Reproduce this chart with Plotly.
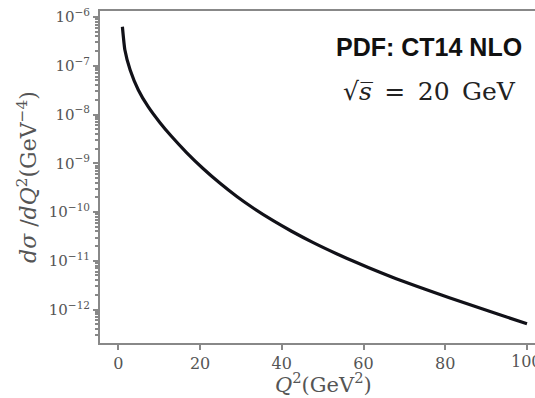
import plotly.graph_objects as go

# Data
q2 = [1, 1.6, 2.9, 4.9, 7.3, 10.2, 13, 16.7, 20.8, 24.9, 29, 33, 38, 42.4, 47.7,
      53.4, 58.3, 64, 69, 77, 85, 93, 100]
log_sigma = [-6.2, -6.67, -7.086, -7.496, -7.839, -8.167, -8.447, -8.780, -9.112,
             -9.411, -9.682, -9.918, -10.183, -10.394, -10.627, -10.855, -11.036,
             -11.236, -11.401, -11.641, -11.873, -12.097, -12.293]
dsigma = [10 ** v for v in log_sigma]

x_ticks = [0, 20, 40, 60, 80, 100]
y_tick_exps = [-6, -7, -8, -9, -10, -11, -12]
y_tickvals = [10.0 ** e for e in y_tick_exps]
y_ticktext = ["10<sup>\u2212%d</sup>" % (-e) for e in y_tick_exps]
minor_vals = [m * 10.0 ** e for e in range(-13, -5) for m in range(2, 10)]

serif = "DejaVu Serif"
grey = "#888888"
label_grey = "#555555"

fig = go.Figure()
fig.add_trace(go.Scatter(
    x=q2, y=dsigma, mode="lines",
    line=dict(color="#111118", width=3.2, shape="spline", smoothing=0.5),
    showlegend=False,
))

fig.update_layout(
    width=535, height=398,
    margin=dict(l=100, r=0, t=11, b=55),
    paper_bgcolor="white", plot_bgcolor="white",
    font=dict(family=serif, color=label_grey),
    xaxis=dict(
        range=[-4.48, 101.96], tickvals=x_ticks,
        ticks="outside", ticklen=5, tickcolor=grey, tickwidth=1.5,
        showline=True, linecolor=grey, linewidth=2, mirror=True,
        showgrid=False, zeroline=False,
        tickfont=dict(size=16, family=serif, color=label_grey),
    ),
    yaxis=dict(
        type="log", range=[-12.686, -5.877],
        tickvals=y_tickvals, ticktext=y_ticktext,
        ticks="outside", ticklen=5, tickcolor=grey, tickwidth=1.5,
        minor=dict(tickvals=minor_vals, ticks="outside", ticklen=3, tickcolor=grey),
        showline=True, linecolor=grey, linewidth=2,
        showgrid=False, zeroline=False,
        tickfont=dict(size=15, family=serif, color=label_grey),
        title=dict(text="<i>d\u03c3</i> /<i>dQ</i><sup>2</sup>(GeV<sup>\u22124</sup>)",
                   font=dict(size=22, family=serif, color=label_grey), standoff=6),
    ),
    annotations=[
        dict(text="100", xref="x", x=100, yref="paper", y=0, yanchor="top",
             yshift=-7, showarrow=False,
             font=dict(size=16, family=serif, color=label_grey)),
        dict(text="<i>Q</i><sup>2</sup>(GeV<sup>2</sup>)", xref="paper", x=0.513,
             yref="paper", y=0, yanchor="top", yshift=-24, showarrow=False,
             font=dict(size=21, family=serif, color=label_grey)),
        dict(text="<b>PDF: CT14 NLO</b>", xref="paper", yref="paper",
             x=0.975, y=0.893, xanchor="right", yanchor="middle", showarrow=False,
             font=dict(size=25, family="Liberation Sans", color="#111111")),
        dict(text="\u221a<i>s\u0305</i>\u2002=\u200220\u2002GeV", xref="paper", yref="paper",
             x=0.962, y=0.759, xanchor="right", yanchor="middle", showarrow=False,
             font=dict(size=25, family=serif, color="#222222")),
    ],
)

fig.write_html("out.html", config={"displayModeBar": False},
               post_script="document.body.style.margin='0';document.body.style.overflow='hidden';")
